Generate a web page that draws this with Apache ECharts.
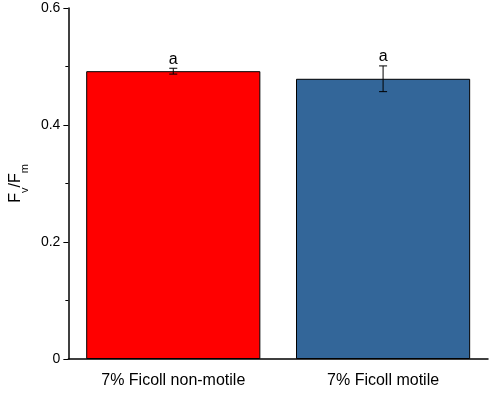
<!DOCTYPE html>
<html><head><meta charset="utf-8">
<script src="https://cdn.jsdelivr.net/npm/echarts@6/dist/echarts.min.js"></script>
</head><body style="margin:0">
<div id="c" style="width:498px;height:400px"></div>
<script>
const categories = ['7% Ficoll non-motile', '7% Ficoll motile']
const means = [0.492, 0.479]
const errs = [0.005, 0.022]
const letters = ['a', 'a']
const colors = ['#ff0000', '#336699']

const chart = echarts.init(document.getElementById('c'))
chart.setOption({
  animation: false,
  grid: {left: 65, right: 10, top: 8, bottom: 41},
  xAxis: {
    type: 'category', data: categories,
    axisLine: {lineStyle: {color: '#000', width: 1.5}},
    axisTick: {alignWithLabel: true, length: 5, lineStyle: {color: '#000'}},
    axisLabel: {color: '#000', fontSize: 16, fontFamily: 'Liberation Sans, Arial', margin: 14}
  },
  yAxis: {
    type: 'value', min: 0, max: 0.6, interval: 0.2,
    name: '{a|F}{s|v}{a|/F}{s|m}', nameLocation: 'middle', nameGap: 38, nameRotate: 90,
    nameTextStyle: {rich: {
      a: {fontSize: 16, color: '#000', fontFamily: 'Liberation Sans, Arial'},
      s: {fontSize: 11, color: '#000', verticalAlign: 'bottom', padding: [0, 0, -6, 0], fontFamily: 'Liberation Sans, Arial'}
    }},
    splitLine: {show: false},
    axisLine: {show: true, lineStyle: {color: '#000', width: 1.5}},
    axisTick: {show: true, length: 5, lineStyle: {color: '#000'}},
    minorTick: {show: true, splitNumber: 2, length: 3, lineStyle: {color: '#000'}},
    axisLabel: {color: '#000', fontSize: 14, fontFamily: 'Liberation Sans, Arial',
      formatter: v => v === 0 ? '0' : v.toFixed(1)}
  },
  series: [{
    type: 'bar', barWidth: '83%',
    data: means.map((v, i) => ({value: v, itemStyle: {color: colors[i]}})),
    itemStyle: {borderColor: '#000', borderWidth: 1}
  }, {
    type: 'custom',
    data: means.map((v, i) => [i, v - errs[i], v + errs[i]]),
    renderItem: (params, api) => {
      const lo = api.coord([api.value(0), api.value(1)])
      const hi = api.coord([api.value(0), api.value(2)])
      const w = 4
      const st = {stroke: '#000', lineWidth: 1}
      return {type: 'group', children: [
        {type: 'line', shape: {x1: lo[0], y1: lo[1], x2: hi[0], y2: hi[1]}, style: st},
        {type: 'line', shape: {x1: lo[0] - w, y1: lo[1], x2: lo[0] + w, y2: lo[1]}, style: st},
        {type: 'line', shape: {x1: hi[0] - w, y1: hi[1], x2: hi[0] + w, y2: hi[1]}, style: st},
        {type: 'text', x: hi[0], y: hi[1] - 1, style: {text: letters[params.dataIndex], fill: '#000',
          font: '16px Liberation Sans, Arial', align: 'center', verticalAlign: 'bottom'}}
      ]}
    },
    z: 5
  }]
})
</script>
</body></html>
